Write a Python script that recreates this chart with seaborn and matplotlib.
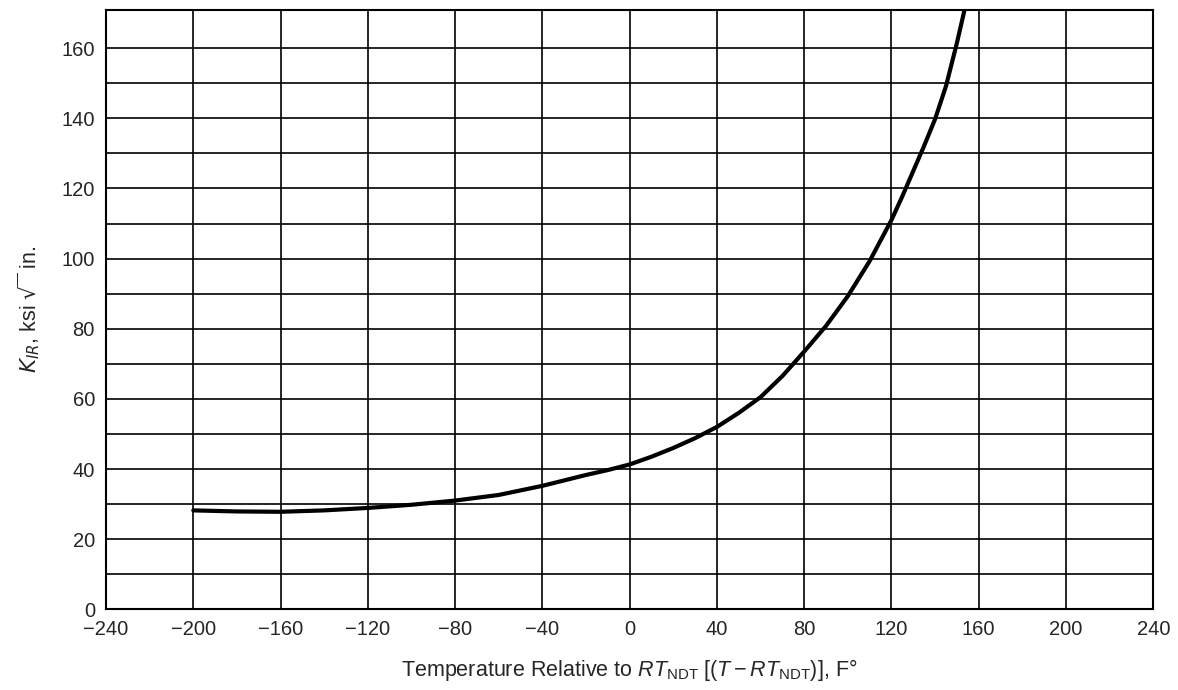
import numpy as np
import pandas as pd
import seaborn as sns
import matplotlib.pyplot as plt

# K_IR reference curve
temp = [-200, -180, -160, -140, -120, -100, -80, -60, -40, -20, -10, 0, 10, 20, 30, 40,
        50, 60, 70, 80, 90, 100, 110, 120, 125, 130, 135, 140, 145, 150, 155]
kir = [28.2, 27.9, 27.8, 28.2, 28.9, 29.8, 31.0, 32.6, 35.2, 38.3, 39.7, 41.3, 43.5, 46.0, 48.8, 52.0,
       56.0, 60.5, 66.5, 73.5, 80.8, 89.3, 99.3, 111.0, 117.8, 125.0, 132.2, 139.8, 149.2, 161.5, 175.0]

x_ticks = [-240, -200, -160, -120, -80, -40, 0, 40, 80, 120, 160, 200, 240]
y_ticks = [0, 20, 40, 60, 80, 100, 120, 140, 160]

df = pd.DataFrame({"T": temp, "K": kir})

sns.set_style("white")
plt.rcParams['font.family'] = ['Liberation Sans', 'DejaVu Sans']
plt.rcParams['mathtext.fontset'] = 'custom'
plt.rcParams['mathtext.rm'] = 'Liberation Sans'
plt.rcParams['mathtext.it'] = 'Liberation Sans:italic'

fig = plt.figure(figsize=(11.78, 6.9), dpi=100)
ax = fig.add_axes([0.090, 0.117, 0.889, 0.869])

# grid: vertical every 40, horizontal every 10
for xv in range(-200, 240, 40):
    ax.axvline(xv, color='black', lw=1.2, zorder=1)
for yv in range(10, 170, 10):
    ax.axhline(yv, color='black', lw=1.2, zorder=1)

sns.lineplot(data=df, x="T", y="K", color='black', linewidth=3.0, ax=ax, zorder=3)

ax.set_xlim(-240, 240)
ax.set_ylim(0, 171)
ax.set_xticks(x_ticks)
ax.set_yticks(y_ticks)
ax.tick_params(length=0, labelsize=14.5, pad=8)
for s in ax.spines.values():
    s.set_color('black')
    s.set_linewidth(1.5)

ax.set_xlabel(r'Temperature Relative to $RT_{\mathrm{NDT}}$ [($T-RT_{\mathrm{NDT}}$)], F°',
              fontsize=15.5, labelpad=13)
ax.set_ylabel(r'$K_{IR}$, ksi $\sqrt{\;}$ in.', fontsize=15.5, labelpad=14,
              math_fontfamily='dejavusans')

fig.savefig('out.png', dpi=100)
